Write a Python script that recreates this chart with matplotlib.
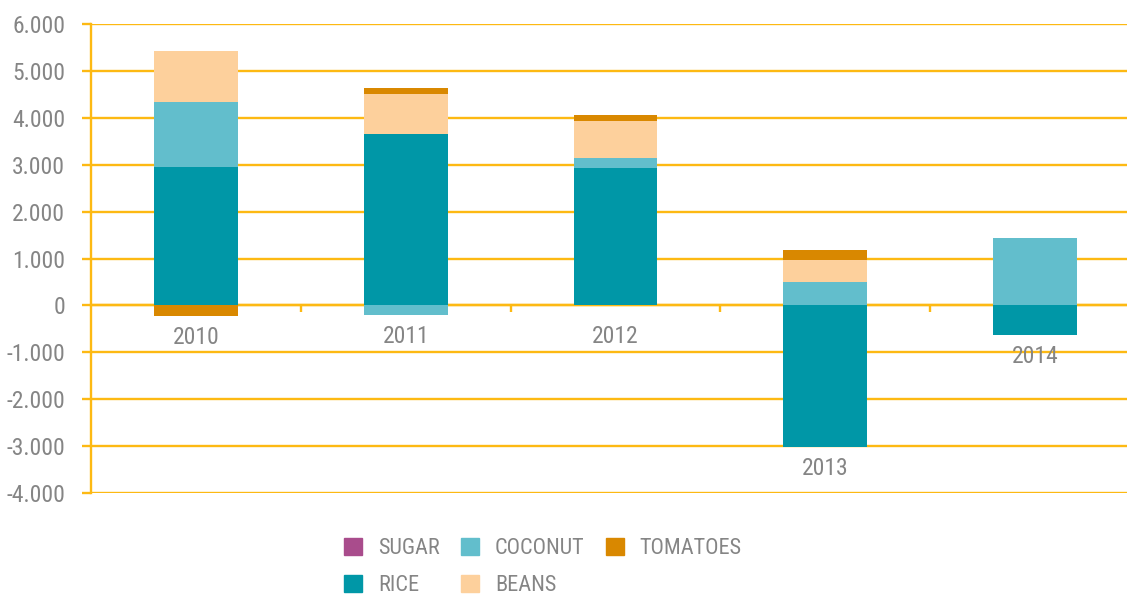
import matplotlib
matplotlib.use("Agg")
import matplotlib.pyplot as plt
from matplotlib.ticker import FixedLocator, FuncFormatter, NullFormatter
from matplotlib.patches import Patch
from matplotlib import font_manager
import numpy as np

years = ["2010", "2011", "2012", "2013", "2014"]
series_names = ["SUGAR", "RICE", "COCONUT", "BEANS", "TOMATOES"]
sugar = [0, 0, 0, 0, 0]
rice = [2950, 3650, 2930, -3020, -640]
coconut = [1390, -200, 210, 490, 1430]
beans = [1080, 850, 790, 470, 0]
tomatoes = [-220, 130, 120, 230, 0]
y_ticks = [-4000, -3000, -2000, -1000, 0, 1000, 2000, 3000, 4000, 5000, 6000]

colors = ["#A94C8C", "#0097A7", "#62BECC", "#FDD09C", "#D98800"]
grid_c = "#FDB913"
text_c = "#858585"

names = sorted({f.name for f in font_manager.fontManager.ttflist})
cands = [n for n in ['Roboto Condensed', 'Open Sans Condensed', 'Liberation Sans Narrow',
                     'DejaVu Sans'] if n in names]
plt.rcParams['font.family'] = cands + ['DejaVu Sans']
plt.rcParams['font.stretch'] = 'condensed'
FS = 17
LFS = 16

fig = plt.figure(figsize=(11.27, 5.98), dpi=100)
ax = fig.add_axes([91/1127, 1-493/598, 1049/1127, (493-24)/598])

x = np.arange(len(years))
data = [sugar, rice, coconut, beans, tomatoes]
pos_bottom = np.zeros(len(years))
neg_bottom = np.zeros(len(years))
for vals, c in zip(data, colors):
    v = np.array(vals, dtype=float)
    bottom = np.where(v >= 0, pos_bottom, neg_bottom)
    ax.bar(x, v, 0.4, bottom=bottom, color=c, zorder=3, linewidth=0)
    pos_bottom += np.where(v > 0, v, 0)
    neg_bottom += np.where(v < 0, v, 0)

ax.set_xlim(-0.5, len(years) - 0.5)
ax.set_ylim(min(y_ticks), max(y_ticks))
ax.yaxis.set_major_locator(FixedLocator(y_ticks))
ax.yaxis.set_major_formatter(FuncFormatter(lambda v, p: f"{v:,.0f}".replace(",", ".")))
ax.grid(axis='y', color=grid_c, linewidth=1.7, zorder=0)
ax.set_axisbelow(True)

for s in ['top', 'right']:
    ax.spines[s].set_visible(False)
ax.spines['left'].set_color(grid_c)
ax.spines['left'].set_linewidth(1.7)
ax.spines['bottom'].set_position(('data', 0))
ax.spines['bottom'].set_color(grid_c)
ax.spines['bottom'].set_linewidth(1.7)
ax.spines['bottom'].set_zorder(1)

ax.tick_params(axis='y', direction='out', length=6.5, width=1.7, color=grid_c,
               labelcolor=text_c, labelsize=FS, pad=12)
ax.set_xticks([])
ax.xaxis.set_minor_locator(FixedLocator(x[:-1] + 0.5))
ax.xaxis.set_minor_formatter(NullFormatter())
ax.tick_params(axis='x', which='minor', direction='out', length=5, width=1.7, color=grid_c)

for i, yr in enumerate(years):
    ylab = min(neg_bottom[i], -200) - 460
    ax.text(x[i], ylab, yr, ha='center', va='center', color=text_c, fontsize=FS, zorder=4)

handles = [Patch(color=c, label=n) for c, n in zip(colors, series_names)]
leg = fig.legend(handles=handles, loc='upper left', bbox_to_anchor=(344/1127, 1-538/598),
                 ncol=3, frameon=False, fontsize=LFS, borderpad=0, borderaxespad=0,
                 handlelength=0.81, handleheight=0.81, handletextpad=0.72,
                 columnspacing=0.95, labelspacing=0.7, labelcolor=text_c)

fig.savefig("out.png", dpi=100)
